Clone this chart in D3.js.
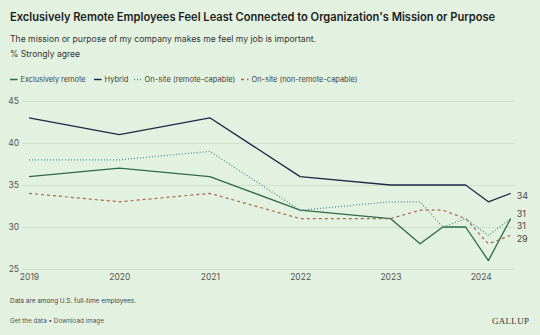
<!DOCTYPE html>
<html><head><meta charset="utf-8">
<script src="https://cdn.jsdelivr.net/npm/d3@7"></script>
<style>
html,body{margin:0;padding:0;background:#e3f1e0;}
svg{display:block;font-family:Inter, "Noto Sans", sans-serif;}
</style></head>
<body><svg id="c" width="540" height="335"></svg>
<script>
const dates = ["2019-01-01","2020-01-01","2021-01-01","2022-01-01","2023-01-01","2023-05-01","2023-08-01","2023-11-01","2024-02-01","2024-05-01"];
const exclusivelyRemote = [36,37,36,32,31,28,30,30,26,31];
const hybrid = [43,41,43,36,35,35,35,35,33,34];
const onsiteRemoteCapable = [38,38,39,32,33,33,30,31,29,31];
const onsiteNonRemoteCapable = [34,33,34,31,31,32,32,31,28,29];
const seriesNames = ["Exclusively remote","Hybrid","On-site (remote-capable)","On-site (non-remote-capable)"];
const yTicks = [25,30,35,40,45];
const xTickYears = [2019,2020,2021,2022,2023,2024];

const styles = [
  {color:"#2d6a45", dash:null, width:1.3},
  {color:"#1b2946", dash:null, width:1.3},
  {color:"#3f8a8c", dash:"1,2", width:1.2},
  {color:"#a5694f", dash:"3,3", width:1.2}
];
const seriesList = [exclusivelyRemote, hybrid, onsiteRemoteCapable, onsiteNonRemoteCapable]
  .map((v,i)=>Object.assign({name:seriesNames[i], values:v}, styles[i]));

const svg = d3.select("#c");
const parse = d3.utcParse("%Y-%m-%d");
const x = d3.scaleUtc().domain([parse("2019-01-01"), parse("2024-01-01")]).range([29, 480.7]);
const y = d3.scaleLinear().domain([25,45]).range([269,101]);

function fit(sel, target){
  const fs = parseFloat(sel.attr("font-size"));
  const w = sel.node().getComputedTextLength();
  sel.attr("font-size", (fs*target/w).toFixed(2));
  return sel;
}

// title
fit(svg.append("text").attr("x",10).attr("y",21).attr("font-size",12).attr("font-weight",600).attr("fill","#1d1d1d")
  .text("Exclusively Remote Employees Feel Least Connected to Organization's Mission or Purpose"), 485);
fit(svg.append("text").attr("x",10).attr("y",41.5).attr("font-size",10).attr("fill","#333")
  .text("The mission or purpose of my company makes me feel my job is important."), 307);
fit(svg.append("text").attr("x",10).attr("y",56.5).attr("font-size",10).attr("fill","#333")
  .text("% Strongly agree"), 70);

// legend
const legendX = [10, 94, 134, 241];
const legendW = [65, 24, 91, 106];
const lg = svg.append("g");
seriesList.forEach((s,i)=>{
  const g = lg.append("g").attr("transform",`translate(${legendX[i]},79.5)`);
  g.append("line").attr("x1",0).attr("x2",7.5).attr("y1",0).attr("y2",0)
    .attr("stroke",s.color).attr("stroke-width",1.5).attr("stroke-dasharray",s.dash);
  fit(g.append("text").attr("x",10.5).attr("y",0).attr("dy","0.35em").attr("font-size",8).attr("fill","#444").text(s.name), legendW[i]);
});

// gridlines + y axis
const yAxis = d3.axisLeft(y).tickValues(yTicks).tickSize(-(515-22)).tickPadding(3);
const gy = svg.append("g").attr("transform","translate(22,0)").call(yAxis);
gy.select(".domain").remove();
gy.selectAll(".tick line").attr("stroke","#cfe0cb").attr("stroke-width",1);
gy.selectAll(".tick text").attr("font-size",8.5).attr("fill","#555").attr("font-family","Inter, 'Noto Sans', sans-serif");

// x axis
const xAxis = d3.axisBottom(x).tickValues(xTickYears.map(yr=>parse(yr+"-01-01"))).tickFormat(d3.utcFormat("%Y")).tickSize(0).tickPadding(5);
const gx = svg.append("g").attr("transform","translate(0,269)").call(xAxis);
gx.select(".domain").remove();
gx.selectAll(".tick text").attr("font-size",8.5).attr("fill","#555").attr("font-family","Inter, 'Noto Sans', sans-serif");

// lines
const line = d3.line().x((d,i)=>x(parse(dates[i]))).y(d=>y(d));
seriesList.forEach(s=>{
  svg.append("path").datum(s.values).attr("d",line).attr("fill","none")
    .attr("stroke",s.color).attr("stroke-width",s.width).attr("stroke-dasharray",s.dash)
    .attr("stroke-linejoin","round");
});

// end labels with collision avoidance
const lastX = x(parse(dates[dates.length-1]));
const labels = seriesList.map(s=>({v:s.values[s.values.length-1], y:y(s.values[s.values.length-1])+2}))
  .sort((a,b)=>a.y-b.y);
const gap = 12.6;
for(let iter=0; iter<50; iter++){
  for(let i=1;i<labels.length;i++){
    const ov = labels[i-1].y + gap - labels[i].y;
    if(ov>0){ labels[i-1].y -= ov/2; labels[i].y += ov/2; }
  }
}
labels.forEach(l=>{
  svg.append("text").attr("x",lastX+6).attr("y",l.y).attr("dy","0.35em").attr("font-size",9).attr("fill","#444").text(l.v);
});

// footer
fit(svg.append("text").attr("x",10).attr("y",302.5).attr("font-size",7.5).attr("fill","#444").text("Data are among U.S. full-time employees."), 126);
fit(svg.append("text").attr("x",10).attr("y",322.5).attr("font-size",7.5).attr("fill","#555").text("Get the data \u2022 Download image"), 94);
fit(svg.append("text").attr("x",492).attr("y",323.5).attr("font-size",10.5)
  .attr("font-family","'Liberation Serif', 'DejaVu Serif', serif").attr("letter-spacing",0.3).attr("fill","#333").text("GALLUP"), 37);
</script></body></html>
